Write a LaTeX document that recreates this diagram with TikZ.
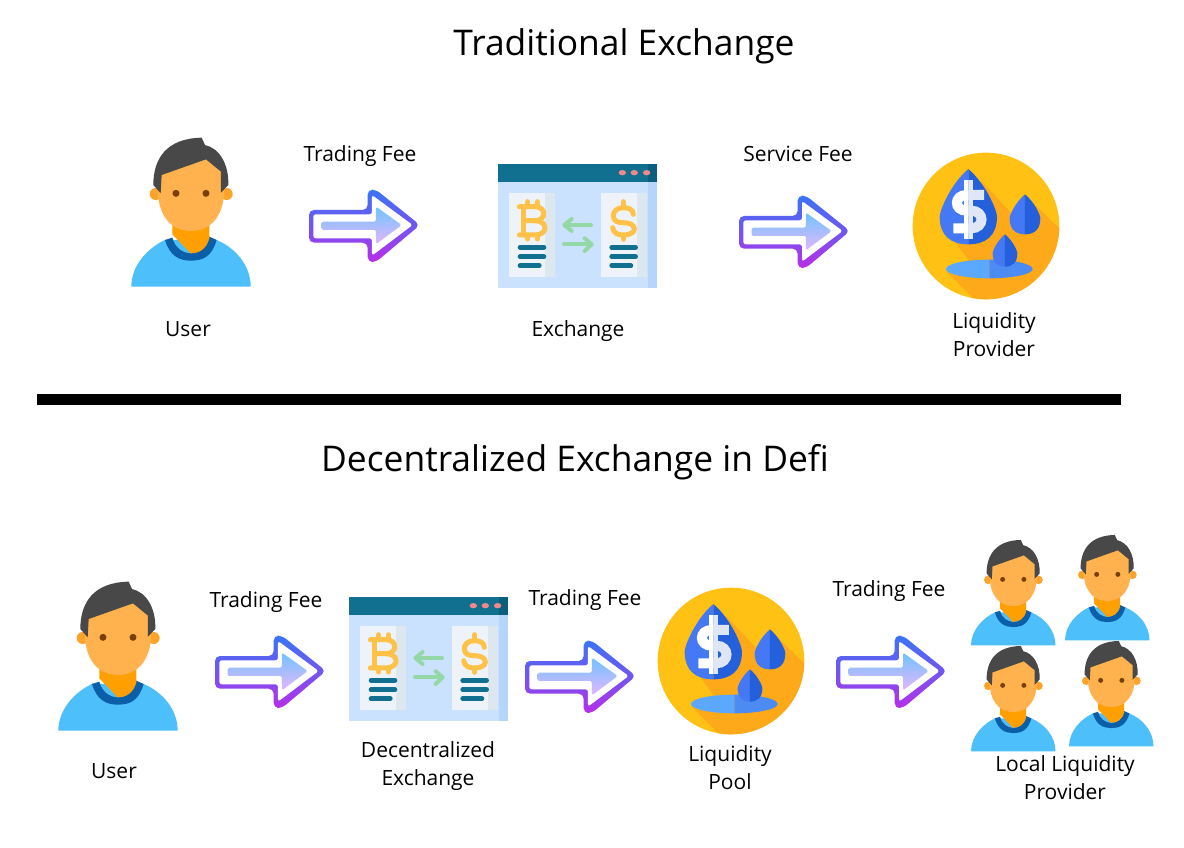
\documentclass[tikz,border=0pt]{standalone}
\usepackage{fontspec}
\setmainfont{Open Sans}
\definecolor{shirt}{HTML}{4DBFFB}
\definecolor{collar}{HTML}{0B5EA8}
\definecolor{neck}{HTML}{FF9F00}
\definecolor{face}{HTML}{FFB24D}
\definecolor{ear}{HTML}{FDA329}
\definecolor{eye}{HTML}{7A3E08}
\definecolor{hair}{HTML}{484848}
\definecolor{arrowtop}{HTML}{3A74F6}
\definecolor{arrowbot}{HTML}{B82EE8}
\definecolor{shafttop}{HTML}{6FC3FF}
\definecolor{shaftbot}{HTML}{E3B6FF}
\definecolor{winhead}{HTML}{11708F}
\definecolor{winheaddk}{HTML}{0B5F7E}
\definecolor{winbody}{HTML}{CBE2FF}
\definecolor{winside}{HTML}{B5D5FB}
\definecolor{windot}{HTML}{F08A8A}
\definecolor{card}{HTML}{EEF3FA}
\definecolor{cardside}{HTML}{DDE7F0}
\definecolor{coin}{HTML}{FDC247}
\definecolor{swap}{HTML}{95D8A8}
\definecolor{disc}{HTML}{FFC113}
\definecolor{discshade}{HTML}{FDA91A}
\definecolor{dropL}{HTML}{4478F5}
\definecolor{dropR}{HTML}{2460DC}
\definecolor{poolL}{HTML}{5AA8FF}
\definecolor{poolR}{HTML}{4C8CF2}
\definecolor{dollarR}{HTML}{DFE6F5}
\tikzset{
  caption/.style={font=\fontsize{21}{28}\selectfont,align=center,text=black,inner sep=0pt},
  heading/.style={font=\fontsize{35.4}{42}\selectfont,text=black,inner sep=0pt},
  coinline/.style={draw=coin,line width=5pt,line cap=round},
  textline/.style={draw=winhead,line width=4.6pt,line cap=round},
  swapline/.style={draw=swap,line width=4pt,line cap=round,line join=round}
}
% person: origin x, origin y, scale
\newcommand{\personicon}[3]{%
\begin{scope}[shift={(#1,#2)},x=#3*0.3333pt,y=-#3*0.3333pt]
  \fill[shirt] (34,485) .. controls (34,420) and (85,368) .. (135,345) -- (290,345) .. controls (345,368) and (392,420) .. (392,485) -- cycle;
  \fill[collar] (135,345) .. controls (150,395) and (180,407) .. (212,407) .. controls (250,407) and (275,395) .. (290,345) -- (268,335) .. controls (255,375) and (235,385) .. (212,385) .. controls (190,385) and (165,370) .. (157,338) -- cycle;
  \fill[neck] (157,290) -- (268,290) -- (268,340) .. controls (260,370) and (240,385) .. (212,385) -- (157,328) -- cycle;
  \fill[ear] (107,207) circle[radius=18];
  \fill[ear] (320,207) circle[radius=18];
  \fill[face] (113,190) .. controls (113,268) and (150,318) .. (213,318) .. controls (276,318) and (313,268) .. (313,190) .. controls (313,50) and (113,50) .. (113,190) -- cycle;
  \fill[eye] (168,205) circle[radius=10.5];
  \fill[eye] (258,205) circle[radius=10.5];
  \fill[hair] (122,205) -- (100,180) .. controls (100,100) and (140,40) .. (245,38) -- (255,60) .. controls (300,70) and (327,120) .. (325,180) -- (303,203) -- (303,140) -- (258,103) -- (125,150) -- cycle;
\end{scope}}
% gradient arrow
\newcommand{\gradarrow}[2]{%
\begin{scope}[shift={(#1,#2)},x=0.3333pt,y=-0.3333pt]
  \shade[top color=arrowtop,bottom color=arrowbot,middle color=arrowtop!55!arrowbot,rounded corners=5pt]
    (27,90) -- (203,90) -- (203,29) -- (228,29) -- (360,135) -- (228,246) -- (203,246) -- (203,188) -- (27,188) -- cycle;
  \fill[white,rounded corners=2.5pt]
    (40,103) -- (216,103) -- (216,45) -- (338,135) -- (216,227) -- (216,175) -- (40,175) -- cycle;
  \shade[top color=shafttop,bottom color=shaftbot,rounded corners=1.5pt]
    (65,125) -- (228,125) -- (228,80) -- (305,135) -- (228,193) -- (228,150) -- (65,150) -- cycle;
\end{scope}}
% exchange window
\newcommand{\exchangeicon}[2]{%
\begin{scope}[shift={(#1,#2)},x=0.3333pt,y=-0.3333pt]
  \fill[winbody] (25,82) rectangle (475,398);
  \fill[winside] (475,82) rectangle (500,398);
  \fill[winhead] (25,27) rectangle (475,82);
  \fill[winheaddk] (475,27) rectangle (500,82);
  \foreach \dx in {397,433,470} \fill[windot] (\dx,53) ellipse[x radius=11,y radius=8];
  \foreach \cx in {58,333} {
    \fill[card] (\cx,115) rectangle ++(137,250);
    \fill[cardside] (\cx+107,115) rectangle ++(30,250);
    \draw[textline] (\cx+32,277) -- ++(72,0);
    \draw[textline] (\cx+32,305) -- ++(72,0);
    \draw[textline] (\cx+32,332) -- ++(58,0);
  }
  % bitcoin
  \draw[coinline,line join=round] (88,155) -- (135,155) .. controls (170,155) and (170,197) .. (135,197) -- (100,197);
  \draw[coinline,line join=round] (135,197) .. controls (175,197) and (175,240) .. (135,240) -- (88,240);
  \draw[coinline] (100,155) -- (100,240);
  \foreach \tx in {113,142} {
    \draw[coinline] (\tx,140) -- (\tx,155);
    \draw[coinline] (\tx,240) -- (\tx,252);
  }
  % dollar
  \draw[coinline] (430,178) .. controls (430,163) and (415,158) .. (400,158) .. controls (380,158) and (370,170) .. (370,182) .. controls (370,200) and (385,203) .. (400,203) .. controls (420,203) and (433,210) .. (433,222) .. controls (433,235) and (415,240) .. (400,240) .. controls (385,240) and (370,235) .. (368,218);
  \draw[coinline] (400,140) -- (400,158);
  \draw[coinline] (400,240) -- (400,253);
  % swap arrows
  \draw[swapline] (303,210) -- (225,210);
  \draw[swapline] (245,192) -- (223,210) -- (245,228);
  \draw[swapline] (222,268) -- (303,268);
  \draw[swapline] (284,250) -- (305,268) -- (284,288);
\end{scope}}
\newcommand{\dropshape}[7]{% cx top bottom halfwidth colourL colourR widest-y
  \fill[#5] (#1,#2) .. controls (#1-0.62*#4,#2+0.2*#3-0.2*#2) and (#1-#4,#7-0.22*#3+0.22*#7) .. (#1-#4,#7) .. controls (#1-#4,#3-0.3*#3+0.3*#7) and (#1-0.6*#4,#3) .. (#1,#3) -- cycle;
  \fill[#6] (#1,#2) .. controls (#1+0.62*#4,#2+0.2*#3-0.2*#2) and (#1+#4,#7-0.22*#3+0.22*#7) .. (#1+#4,#7) .. controls (#1+#4,#3-0.3*#3+0.3*#7) and (#1+0.6*#4,#3) .. (#1,#3) -- cycle;
}
% liquidity disc
\newcommand{\liquidityicon}[2]{%
\begin{scope}[shift={(#1,#2)},x=0.3333pt,y=-0.3333pt]
  \fill[disc] (243,243) circle[radius=220];
  \begin{scope}
    \clip (243,243) circle[radius=220];
    \fill[discshade] (230,110) -- (320,205) -- (360,150) -- (470,258) -- (470,470) -- (215,470) -- (123,378) -- (190,345) -- (125,255) -- cycle;
  \end{scope}
  \fill[poolL] (253,400) arc[start angle=90,end angle=270,x radius=130,y radius=28] -- cycle;
  \fill[poolR] (253,400) arc[start angle=90,end angle=-90,x radius=130,y radius=28] -- cycle;
  \dropshape{190}{72}{298}{86}{dropL}{dropR}{215}
  \dropshape{360}{148}{268}{46}{dropL}{dropR}{220}
  \dropshape{300}{268}{365}{37}{dropL}{dropR}{325}
  \begin{scope}
    \clip (100,90) rectangle (190,290);
    \draw[white,line width=10pt] (237,150) -- (185,150) .. controls (146,150) and (146,197) .. (185,197) -- (198,197) .. controls (240,197) and (240,250) .. (198,250) -- (145,250);
    \fill[white] (176,105) rectangle (204,282);
  \end{scope}
  \begin{scope}
    \clip (190,90) rectangle (260,290);
    \draw[dollarR,line width=10pt] (237,150) -- (185,150) .. controls (146,150) and (146,197) .. (185,197) -- (198,197) .. controls (240,197) and (240,250) .. (198,250) -- (145,250);
    \fill[dollarR] (176,105) rectangle (204,282);
  \end{scope}
\end{scope}}
\begin{document}
\begin{tikzpicture}[x=1pt,y=-1pt]
\useasboundingbox (0,0) rectangle (1184,848);
\fill[white] (0,0) rectangle (1184,848);

\node[heading] (title1) at (624,46) {Traditional Exchange};
\node[heading] (title2) at (575,462) {Decentralized Exchange in Defi};
\fill[black] (37,394) rectangle (1121,405);

% top row
\personicon{120}{125}{1}
\gradarrow{300}{180}
\exchangeicon{490}{155}
\gradarrow{730}{186}
\liquidityicon{905}{145}
\node[caption] (fee1) at (360,156) {Trading Fee};
\node[caption] (fee2) at (798,154) {Service Fee};
\node[caption] (user1) at (188,329) {User};
\node[caption] (ex1) at (578,331) {Exchange};
\node[caption] (lp1) at (994,335) {Liquidity\\Provider};

% bottom row
\personicon{47}{569}{1}
\gradarrow{206}{626}
\exchangeicon{341}{588}
\gradarrow{516}{631}
\liquidityicon{650}{580}
\gradarrow{827}{626}
\personicon{963}{531}{0.708}
\personicon{1057}{526}{0.708}
\personicon{963}{637}{0.708}
\personicon{1061}{632}{0.708}
\node[caption] (fee3) at (266,602) {Trading Fee};
\node[caption] (fee4) at (585,600) {Trading Fee};
\node[caption] (fee5) at (889,591) {Trading Fee};
\node[caption] (user2) at (114,771) {User};
\node[caption] (ex2) at (428,766) {Decentralized\\Exchange};
\node[caption] (lp2) at (730,768) {Liquidity\\Pool};
\node[caption] (lp3) at (1065,778) {Local Liquidity\\Provider};
\end{tikzpicture}
\end{document}
